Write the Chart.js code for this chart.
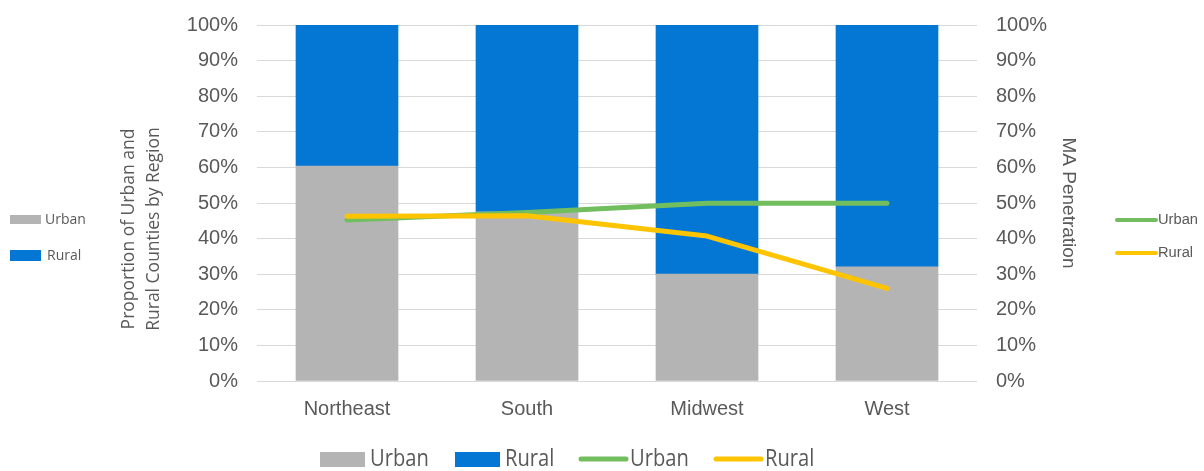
<!DOCTYPE html>
<html>
<head>
<meta charset="utf-8">
<script src="https://cdn.jsdelivr.net/npm/chart.js@4.4.1/dist/chart.umd.min.js"></script>
<style>
  html, body { margin: 0; padding: 0; background: #fff; }
  #wrap { width: 1204px; height: 471px; position: relative; }
</style>
</head>
<body>
<div id="wrap"><canvas id="chart" width="1204" height="471"></canvas></div>
<script>
(function(){
  'use strict';

  // Regions and values (percent)
  const regions      = ['Northeast', 'South', 'Midwest', 'West'];
  const urbanShare   = [60.4, 47.5, 30.0, 32.1];
  const ruralShare   = [39.6, 52.5, 70.0, 67.9];
  const urbanMA      = [45.2, 47.3, 49.9, 49.9];
  const ruralMA      = [46.3, 46.4, 40.7, 26.0];
  const pctTicks     = [0, 10, 20, 30, 40, 50, 60, 70, 80, 90, 100];

  const GRAY = '#b4b4b4', BLUE = '#0477d4', GREEN = '#72be5e', GOLD = '#ffc400';
  const TXT = '#595959';

  const tickFont = { family: 'Liberation Sans, Arial, sans-serif', size: 20 };

  // Legends and axis titles drawn straight onto the canvas
  const decorations = {
    id: 'decorations',
    afterDraw(chart){
      const ctx = chart.ctx;
      const ds = chart.data.datasets;
      ctx.save();
      ctx.textBaseline = 'middle';
      ctx.textAlign = 'left';

      // left legend (bars)
      ctx.font = '14px "Open Sans", sans-serif';
      ctx.fillStyle = ds[0].backgroundColor; ctx.fillRect(10, 215, 31, 9);
      ctx.fillStyle = ds[1].backgroundColor; ctx.fillRect(10, 250, 31, 11);
      ctx.fillStyle = TXT;
      ctx.fillText(ds[0].label, 45, 220);
      ctx.fillText(ds[1].label, 47, 256);

      // right legend (lines)
      ctx.lineCap = 'round';
      ctx.lineWidth = 4;
      ctx.font = '14.7px "Liberation Sans", Arial, sans-serif';
      [[ds[2], 220], [ds[3], 253]].forEach(function(p){
        ctx.strokeStyle = p[0].borderColor;
        ctx.beginPath(); ctx.moveTo(1117, p[1]); ctx.lineTo(1156, p[1]); ctx.stroke();
        ctx.fillStyle = TXT;
        ctx.fillText(p[0].label, 1158, p[1]);
      });

      // bottom legend
      ctx.font = '24px "Open Sans", sans-serif';
      ctx.fillStyle = ds[0].backgroundColor; ctx.fillRect(320, 452, 45, 15);
      ctx.fillStyle = ds[1].backgroundColor; ctx.fillRect(455, 452, 45, 15);
      ctx.lineWidth = 5;
      ctx.strokeStyle = ds[2].borderColor;
      ctx.beginPath(); ctx.moveTo(581, 459); ctx.lineTo(626, 459); ctx.stroke();
      ctx.strokeStyle = ds[3].borderColor;
      ctx.beginPath(); ctx.moveTo(716, 459); ctx.lineTo(761, 459); ctx.stroke();
      ctx.fillStyle = TXT;
      function squeezed(text, x, y){
        ctx.save(); ctx.translate(x, y); ctx.scale(0.84, 1); ctx.fillText(text, 0, 0); ctx.restore();
      }
      squeezed(ds[0].label, 370, 459);
      squeezed(ds[1].label, 505, 459);
      squeezed(ds[2].label, 630, 459);
      squeezed(ds[3].label, 765, 459);

      // left axis title, two lines
      ctx.save();
      ctx.translate(141, 229);
      ctx.rotate(-Math.PI/2);
      ctx.textAlign = 'center';
      ctx.font = '17.5px "Open Sans", sans-serif';
      ctx.fillStyle = TXT;
      ctx.fillText('Proportion of Urban and', 0, -12);
      ctx.fillText('Rural Counties by Region', 0, 13);
      ctx.restore();

      // right axis title
      ctx.save();
      ctx.translate(1068, 203);
      ctx.rotate(Math.PI/2);
      ctx.textAlign = 'center';
      ctx.font = '19px "Liberation Sans", Arial, sans-serif';
      ctx.fillStyle = TXT;
      ctx.fillText('MA Penetration', 0, 0);
      ctx.restore();

      ctx.restore();
    }
  };

  const pctAxis = function(pos){
    return {
      position: pos,
      stacked: pos === 'left',
      min: 0, max: 100,
      afterBuildTicks: function(s){ s.ticks = pctTicks.map(v => ({ value: v })); },
      afterFit: function(s){ s.width = pos === 'left' ? 257 : 227; s.paddingTop = 0; s.paddingBottom = 0; },
      grid: { display: pos === 'left', color: '#d9d9d9', lineWidth: 1, drawTicks: false },
      border: { display: false },
      ticks: {
        color: TXT, font: tickFont, padding: 19,
        callback: v => v + '%'
      }
    };
  };

  new Chart(document.getElementById('chart'), {
    data: {
      labels: regions,
      datasets: [
        { type: 'bar', label: 'Urban', data: urbanShare, backgroundColor: GRAY, yAxisID: 'y', order: 2,
          barThickness: 102, stack: 's' },
        { type: 'bar', label: 'Rural', data: ruralShare, backgroundColor: BLUE, yAxisID: 'y', order: 2,
          barThickness: 102, stack: 's' },
        { type: 'line', label: 'Urban', data: urbanMA, borderColor: GREEN, borderWidth: 5, yAxisID: 'y2',
          pointRadius: 0, tension: 0, borderCapStyle: 'round', borderJoinStyle: 'round', order: 1 },
        { type: 'line', label: 'Rural', data: ruralMA, borderColor: GOLD, borderWidth: 5, yAxisID: 'y2',
          pointRadius: 0, tension: 0, borderCapStyle: 'round', borderJoinStyle: 'round', order: 0 }
      ]
    },
    options: {
      responsive: false,
      animation: false,
      layout: { padding: { top: 25, left: 0, right: 0, bottom: 0 } },
      plugins: { legend: { display: false }, tooltip: { enabled: false } },
      scales: {
        x: {
          stacked: true,
          afterFit: function(s){ s.height = 90; },
          grid: { display: false, drawTicks: false },
          border: { display: false },
          ticks: { color: TXT, font: tickFont, padding: 16, maxRotation: 0 }
        },
        y: pctAxis('left'),
        y2: pctAxis('right')
      }
    },
    plugins: [decorations]
  });
})();
</script>
</body>
</html>
